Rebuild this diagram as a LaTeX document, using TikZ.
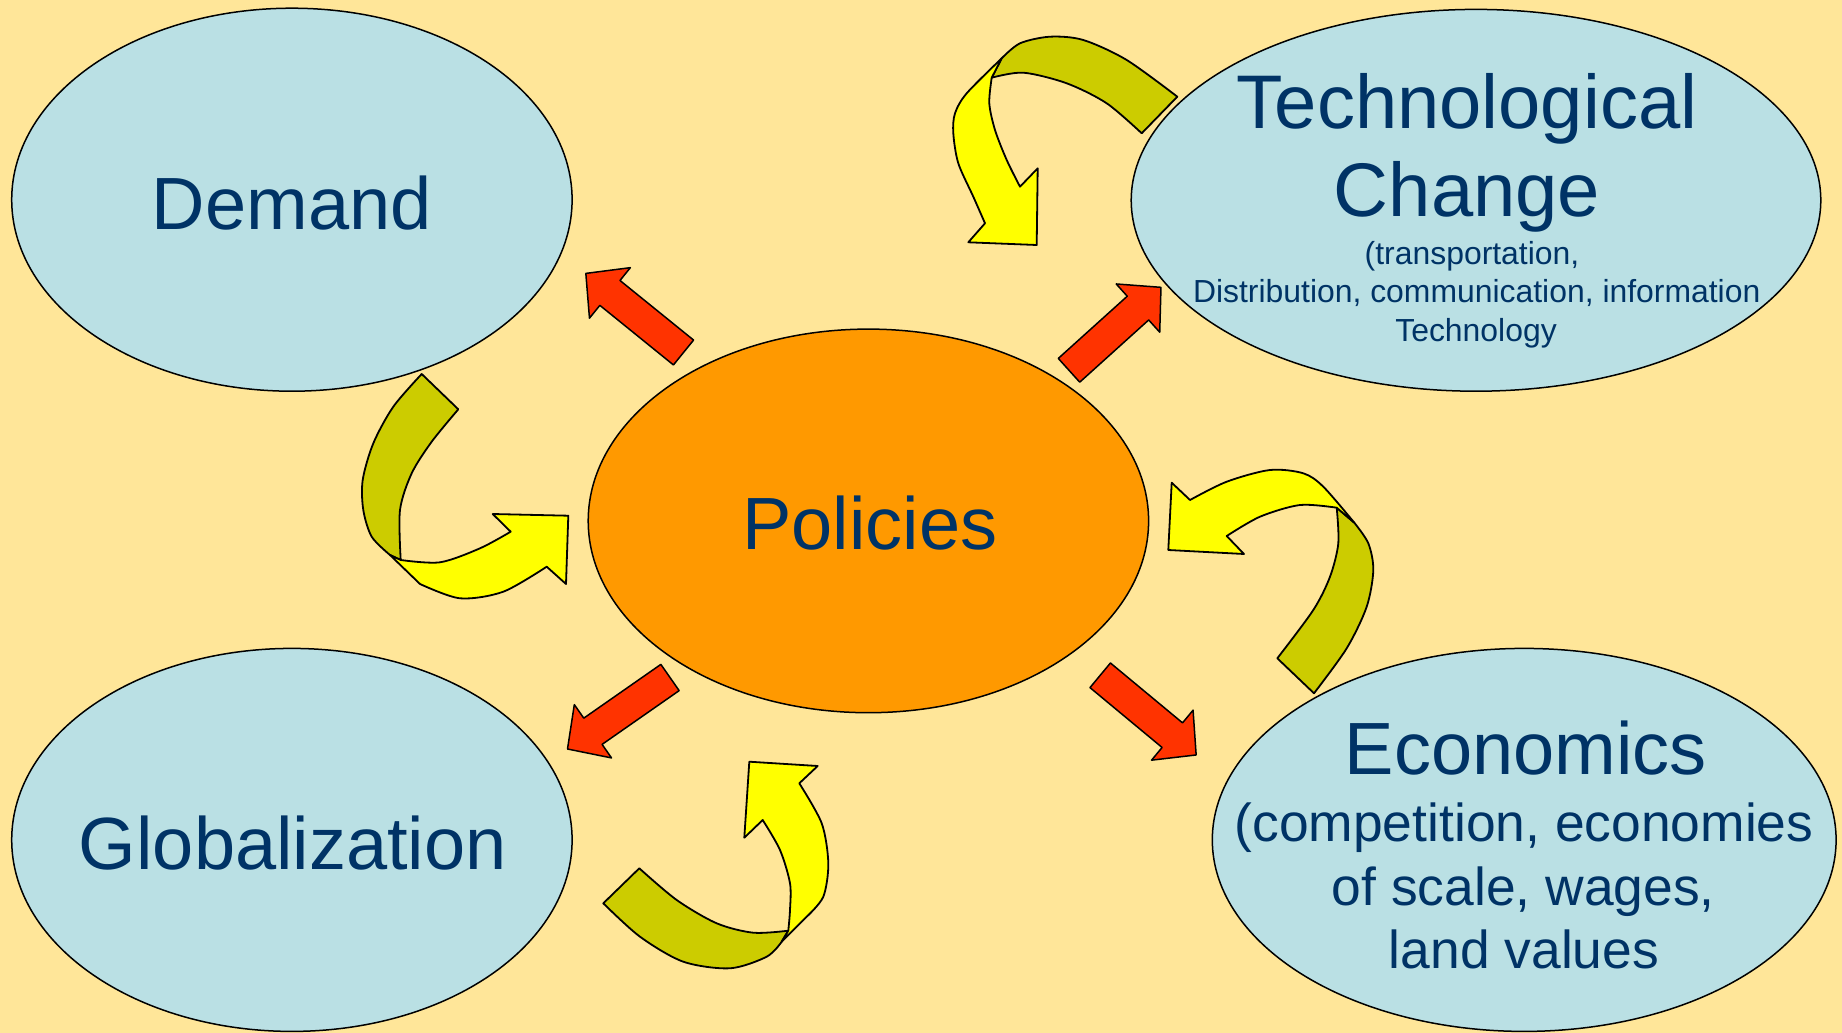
\documentclass[tikz,border=0pt]{standalone}
\usepackage{fontspec}
\setmainfont{Liberation Sans}
\usetikzlibrary{shapes.geometric}
\definecolor{bgc}{HTML}{FFE699}
\definecolor{bluec}{HTML}{BAE0E4}
\definecolor{navyc}{HTML}{003366}
\definecolor{orangec}{HTML}{FF9900}
\definecolor{redc}{HTML}{FF3300}
\definecolor{olivec}{HTML}{CCCC00}
\definecolor{yellowc}{HTML}{FFFF00}
\newcommand\redarrow[4]{%
  \pgfmathsetmacro\rang{atan2((#2)-(#4),(#3)-(#1))}%
  \pgfmathsetmacro\rlen{veclen((#3)-(#1),(#4)-(#2))}%
  \draw[redarr,shift={(#1,#2)},rotate=\rang]
    (0,-16) -- (\rlen-31,-16) -- (\rlen-31,-32.5) -- (\rlen,0)
    -- (\rlen-31,32.5) -- (\rlen-31,16) -- (0,16) -- cycle;}
\begin{document}
\begin{tikzpicture}[x=1pt,y=-1pt,line join=round,
  bubble/.style={ellipse,draw=black,line width=1.5pt,fill=bluec,inner sep=0pt},
  bigtxt/.style={text=navyc,font=\fontsize{74}{88}\selectfont,anchor=base,inner sep=0pt},
  techtxt/.style={text=navyc,font=\fontsize{76}{88}\selectfont,anchor=base,inner sep=0pt},
  midtxt/.style={text=navyc,font=\fontsize{53.4}{63}\selectfont,anchor=base,inner sep=0pt},
  smalltxt/.style={text=navyc,font=\fontsize{31.9}{38}\selectfont,anchor=base,inner sep=0pt},
  redarr/.style={fill=redc,draw=black,line width=1.5pt},
  backband/.style={fill=olivec,draw=black,line width=1.8pt},
  frontband/.style={fill=yellowc,draw=black,line width=1.8pt}]
\useasboundingbox (0,0) rectangle (1842,1033);
\fill[bgc] (0,0) rectangle (1842,1033);

% ellipses
\node[bubble,minimum width=560.4pt,minimum height=383pt] (demand) at (291.9,199.7) {};
\node[bubble,minimum width=689.6pt,minimum height=381.8pt] (tech) at (1476,200.3) {};
\node[bubble,minimum width=560.4pt,minimum height=383pt] (glob) at (291.9,839.9) {};
\node[bubble,minimum width=623.8pt,minimum height=383pt] (econ) at (1524.2,839.9) {};
\node[bubble,fill=orangec,minimum width=560.4pt,minimum height=383.6pt] (pol) at (868.4,520.9) {};

% texts
\node[bigtxt] (tdemand) at (291.7,229.3) {Demand};
\node[bigtxt] (tpol) at (869.9,549) {Policies};
\node[bigtxt] (tglob) at (292.8,869.3) {Globalization};
\node[techtxt] (ttech1) at (1467,128.3) {Technological};
\node[techtxt] (ttech2) at (1467,216.7) {Change};
\node[smalltxt] (ttech3) at (1472,264) {(transportation,};
\node[smalltxt] (ttech4) at (1476.7,302.3) {Distribution, communication, information};
\node[smalltxt] (ttech5) at (1476,341.7) {Technology};
\node[bigtxt] (tecon1) at (1525.8,774) {Economics};
\node[midtxt] (tecon2) at (1524,841.7) {(competition, economies};
\node[midtxt] (tecon3) at (1523.3,905) {of scale, wages,};
\node[midtxt] (tecon4) at (1524,968.3) {land values};

% red block arrows
\redarrow{683.5}{352.5}{585.7}{273.3}
\redarrow{1069}{370.3}{1161}{287.3}
\redarrow{670}{677.5}{567.5}{749}
\redarrow{1100.2}{675.3}{1196.2}{755}

% curved arrow A (top, near Technological Change)
\draw[backband] plot[smooth] coordinates {(1001.7,58.3) (1020,43.3) (1050,36.7) (1083.3,40) (1126.7,60) (1177.3,96.7)}
  -- plot[smooth] coordinates {(1141.7,133.3) (1106.7,103.3) (1066.7,83.3) (1023.3,72.7) (991.7,77.7)} -- cycle;
\draw[frontband] plot[smooth] coordinates {(1001.7,58.3) (966.7,93.3) (955,113.3) (953.3,133.3) (958.3,163.3) (973.3,196.7) (985,223.3)}
  -- (968.3,242.3) -- (1036.7,245) -- (1037.7,168.3) -- (1020,186.7)
  -- plot[smooth] coordinates {(1020,186.7) (1006.7,160) (995,130) (989.3,103.3) (991.7,77.7)} -- cycle;

% curved arrow B (left, Demand -> Policies)
\draw[backband] (421.7,374) -- plot[smooth] coordinates {(458.3,409.3) (431.7,441.7) (411.7,473.3) (400,510) (400.7,560)}
  -- plot[smooth] coordinates {(390,555) (371.7,536.7) (363.3,510) (362.7,480) (373.3,443.3) (393.3,406.7) (421.7,374)} -- cycle;
\draw[frontband] (390,555) -- plot[smooth] coordinates {(420,584) (460,598.3) (503.3,591.7) (546.7,566.7)}
  -- (566,584) -- (568.3,515.7) -- (492.7,514) -- (510.7,531.7)
  -- plot[smooth] coordinates {(510.7,531.7) (480,548.3) (440,562.3) (400.7,560)} -- cycle;

% curved arrow C (bottom, Globalization -> Policies)
\draw[backband] (603.3,903.3) -- plot[smooth] coordinates {(639.3,868.3) (676.7,900) (716.7,923.3) (753.3,932.7) (788.3,930.7)}
  -- plot[smooth] coordinates {(781.7,941.7) (766.7,956.7) (730,968.3) (683.3,961.7) (640,936.7) (603.3,903.3)} -- cycle;
\draw[frontband] (781.7,941.7) -- plot[smooth] coordinates {(806.7,916.7) (823.3,896.7) (828.3,863.3) (821.7,823.3) (799.3,783.3)}
  -- (817.7,766) -- (749.3,761.7) -- (744.3,837.7) -- (762.7,820)
  -- plot[smooth] coordinates {(762.7,820) (780,850) (790,883.3) (790,910) (788.3,930.7)} -- cycle;

% curved arrow D (right, Economics -> Policies)
\draw[backband] plot[smooth] coordinates {(1336.7,507.7) (1338.3,543.3) (1330,576.7) (1313.3,610) (1277.3,658.3)}
  -- plot[smooth] coordinates {(1314,693.3) (1346.7,648.3) (1366.7,606.7) (1373.3,570) (1368.3,543.3) (1354.3,522.7)} -- cycle;
\draw[frontband] plot[smooth] coordinates {(1336.7,507.7) (1300,505) (1260,516.7) (1226.7,536)}
  -- (1244,554) -- (1168.3,550) -- (1171.7,482.7) -- (1190,500)
  -- plot[smooth] coordinates {(1190,500) (1226.7,481.7) (1270,470) (1303.3,473.3) (1323.3,486.7) (1354.3,522.7)} -- cycle;
\end{tikzpicture}
\end{document}
